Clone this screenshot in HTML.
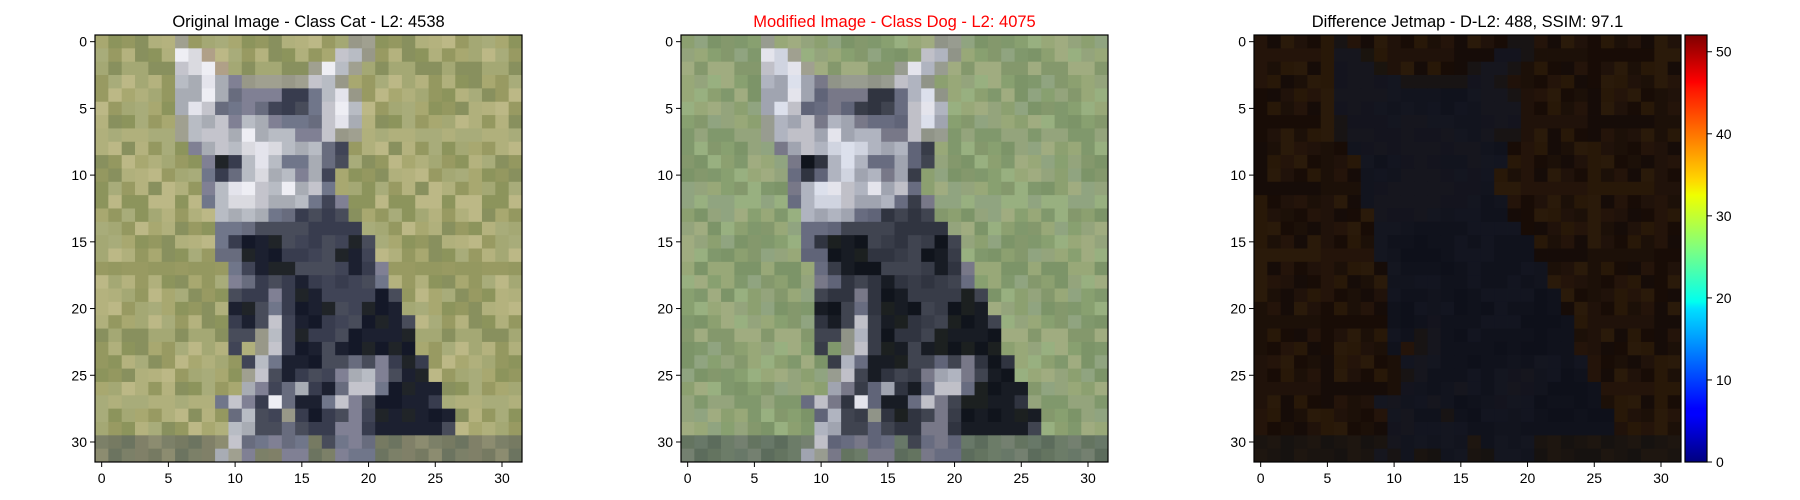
<!DOCTYPE html>
<html><head><meta charset="utf-8">
<style>
html,body{margin:0;padding:0;background:#fff;}
svg{display:block;font-family:"Liberation Sans","DejaVu Sans",sans-serif;}
</style></head>
<body>
<svg id="fig" width="1800" height="500" xmlns="http://www.w3.org/2000/svg">
<defs>
<linearGradient id="jet" x1="0" y1="1" x2="0" y2="0">
<stop offset="0" stop-color="#00007f"/><stop offset="0.11" stop-color="#0000ff"/>
<stop offset="0.125" stop-color="#0000ff"/><stop offset="0.36" stop-color="#00e0ff"/>
<stop offset="0.375" stop-color="#00ffef"/><stop offset="0.5" stop-color="#7fff7f"/>
<stop offset="0.625" stop-color="#efff00"/><stop offset="0.66" stop-color="#ffd700"/>
<stop offset="0.875" stop-color="#ff1400"/><stop offset="0.89" stop-color="#ff0000"/>
<stop offset="1" stop-color="#7f0000"/>
</linearGradient>
</defs>
</svg>
<script>
const catMap = [
"ggggggaggggggggggggaaggggggggggg",
"ggggggwwtgggggggggllaggggggggggg",
"gggggglwwtggggggawlagggggggggggg",
"ggggggllwlmaaaaallaggggggggggggg",
"ggggggllwlmmmmddmlwagggggggggggg",
"gggggglwlmmmmdddmlwlgggggggggggg",
"ggggggalllmllmmmmlwlgggggggggggg",
"ggggggallllwlllmmlaagggggggggggg",
"gggggggmlllwwwlllmdggggggggggggg",
"ggggggggmkdlwlmmlmdggggggggggggg",
"ggggggggmdmlwllmldgggggggggggggg",
"ggggggggmlwwllwllmgggggggggggggg",
"ggggggggmlwwllllmdmggggggggggggg",
"gggggggggllllmmddddggggggggggggg",
"gggggggggmmmddddddddgggggggggggg",
"gggggggggmdkkkdddddkdggggggggggg",
"gggggggggmmkkkddddkkdggggggggggg",
"ggggggggggmdkkkddddkdmgggggggggg",
"ggggggggggmmdddkdddddmgggggggggg",
"ggggggggggdddmdkkddddkdggggggggg",
"ggggggggggkkdmdkkkddkkkggggggggg",
"ggggggggggdkdldkkdddkkkdgggggggg",
"ggggggggggddaldkdddkkkkkgggggggg",
"ggggggggggdgaldkkdkkkkkkgggggggg",
"gggggggggggdlmkkkddmdmdkdggggggg",
"gggggggggggaldkdddmllmdkkggggggg",
"ggggggggggglmdmldkmllmkkkkgggggg",
"gggggggggmlmdwmkkmlmdkkkkdgggggg",
"ggggggggggmlddadkddmdkkkkkkggggg",
"ggggggggggllddmdddmmdkkkkkdggggg",
"GGGGGGGGGGlmmmmmGdmmmGGGGGGGGGGG",
"GGGGGGGGGlamGGmmGGmmmGGGGGGGGGGG"
];
const pal1 = {
 g:["#a8a870","#989a62","#b0b07c","#8c945c","#a4a874","#b4b27e","#949860","#a8ac7a","#bcb886","#88905e"],
 G:["#808068","#7c8068","#6c7460","#8c8c70","#767a62"],
 w:["#e4e4ec","#dadae0","#eeeef4"], l:["#b8bcc4","#c4c4cc","#a8acb4"],
 m:["#70768a","#808094","#686c7e"], d:["#404456","#383c4e","#484c5a"],
 k:["#1c2030","#202428","#141828"], t:["#b0a088"], a:["#a0a090","#989888"]
};
const pal2 = {
 g:["#8ca070","#98a878","#80986c","#90a480","#a0ac80","#88a070","#7c9468","#94a47c","#98b080","#84986c"],
 G:["#6c7c68","#647460","#5c6c5c","#748070","#687868"],
 w:["#dce0ec","#d0d4e0","#e4e4ec"], l:["#b0b4c0","#c0c0c8","#a0a4b0"],
 m:["#686c80","#787888","#606478"], d:["#383c48","#303440","#404450"],
 k:["#181c24","#10141c","#1c2020"], t:["#a0a090"], a:["#989c90","#909488"]
};
const pal3 = {
 g:["#24140a","#1c1008","#281808","#180c06","#20120a","#2a1a0a","#160c08"],
 G:["#1a1410","#1e1610","#161210"],
 w:["#16161e"], l:["#14141e","#16161e"], m:["#12141e","#141620"],
 d:["#10121c","#131520"], k:["#0e101a","#10121c"], t:["#1a140e"], a:["#181414"]
};
const cbTicks = [0,10,20,30,40,50];
const cbMax = 52.04;
const axTicks = [0,5,10,15,20,25,30];
const titles = ["Original Image - Class Cat - L2: 4538","Modified Image - Class Dog - L2: 4075","Difference Jetmap - D-L2: 488, SSIM: 97.1"];
const axLefts = [95,681,1254];
const NS="http://www.w3.org/2000/svg";
const svg=document.getElementById('fig');
const TOP=35, SIZE=427, N=32, S=SIZE/N;
function el(tag,attrs,parent){const e=document.createElementNS(NS,tag);for(const k in attrs)e.setAttribute(k,attrs[k]);(parent||svg).appendChild(e);return e;}
function px(i,L){return L+(i+0.5)*S;}
const pals=[pal1,pal2,pal3];
const names=["original-image","modified-image","difference-jetmap"];
for(let p=0;p<3;p++){
 const L=axLefts[p];
 const g=el('g',{});
 
 
 for(let r=0;r<N;r++){for(let c=0;c<N;c++){
  const ch=catMap[r][c];const arr=pals[p][ch];
  const idx=(r*7+c*13+((r*c)%5)+(r>>2)*3)%arr.length;
  const rect=el('rect',{x:(L+c*S).toFixed(2),y:(TOP+r*S).toFixed(2),width:(S+0.4).toFixed(2),height:(S+0.4).toFixed(2),fill:arr[idx]},g);
  
  
 }}
 const fr=el('rect',{x:L,y:TOP,width:SIZE,height:SIZE,fill:'none',stroke:'#000','stroke-width':1.2});
 
 
 for(const t of axTicks){
  const x=px(t,L);
  el('line',{x1:x,x2:x,y1:TOP+SIZE,y2:TOP+SIZE+5,stroke:'#000','stroke-width':1});
  const tx=el('text',{x:x,y:TOP+SIZE+21,'font-size':14,'text-anchor':'middle',fill:'#000'});tx.textContent=t;
  
  
  const y=px(t,TOP);
  el('line',{x1:L-5,x2:L,y1:y,y2:y,stroke:'#000','stroke-width':1});
  const ty=el('text',{x:L-8,y:y+5,'font-size':14,'text-anchor':'end',fill:'#000'});ty.textContent=t;
  
  
 }
 const tt=el('text',{x:L+SIZE/2,y:27,'font-size':16.5,'text-anchor':'middle',fill:p==1?'#ff0000':'#000'});tt.textContent=titles[p];
 
 
}
const CX=1685,CW=22,CB=TOP+SIZE;
const cb=el('rect',{x:CX,y:TOP,width:CW,height:SIZE,fill:'url(#jet)',stroke:'#000','stroke-width':1.2});


for(const t of cbTicks){
 const y=CB-t/cbMax*SIZE;
 el('line',{x1:CX+CW,x2:CX+CW+5,y1:y,y2:y,stroke:'#000','stroke-width':1});
 const tl=el('text',{x:CX+CW+9,y:y+5,'font-size':14,fill:'#000'});tl.textContent=t;
 
 
}
</script>
</body></html>
